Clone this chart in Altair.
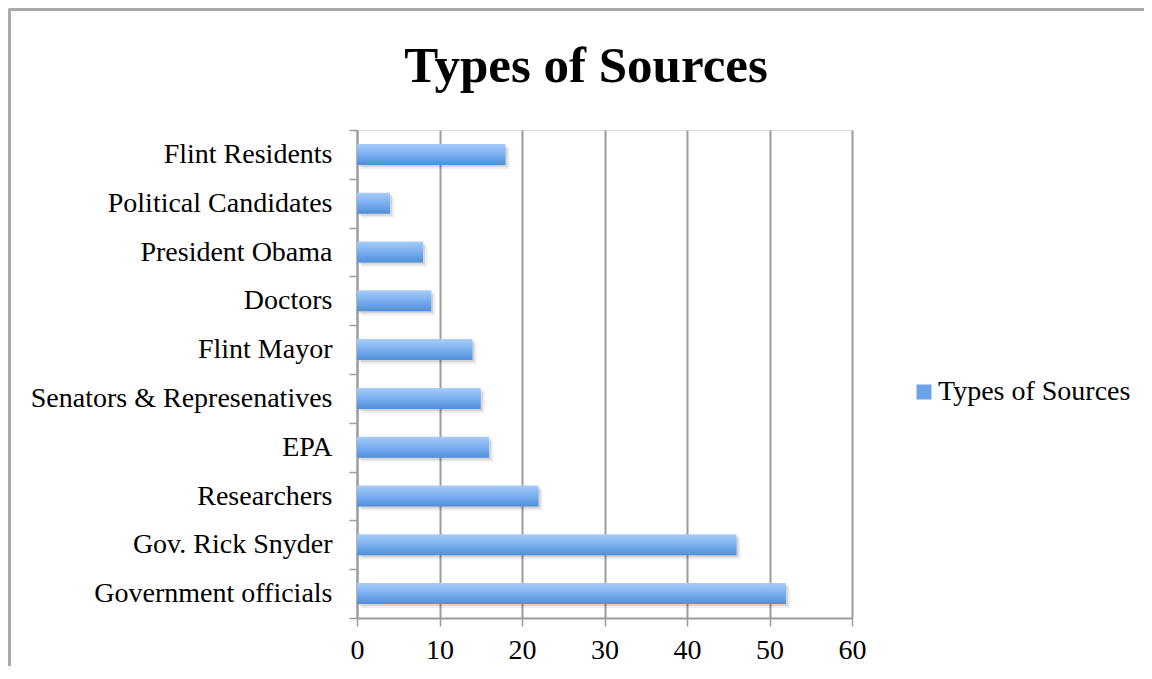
import altair as alt
import pandas as pd

# Data (Excel order: first category drawn at the bottom)
categories = ["Government officials", "Gov. Rick Snyder", "Researchers", "EPA",
              "Senators & Represenatives", "Flint Mayor", "Doctors",
              "President Obama", "Political Candidates", "Flint Residents"]
values = [52, 46, 22, 16, 15, 14, 9, 8, 4, 18]
series_name = "Types of Sources"
title_text = "Types of Sources"
x_ticks = [0, 10, 20, 30, 40, 50, 60]

df = pd.DataFrame({"category": categories, "value": values,
                   "series": [series_name] * len(categories)})

FONT = "Liberation Serif"
GRID = "#9c9c9c"
W, H = 495, 488

y_enc = alt.Y("category:N", sort=list(reversed(categories)), title=None,
              scale=alt.Scale(paddingInner=0, paddingOuter=0),
              axis=alt.Axis(tickBand="extent", tickSize=8, tickColor=GRID, tickWidth=1.5,
                            domainColor=GRID, domainWidth=2, labelFont=FONT,
                            labelFontSize=28, labelColor="black", labelPadding=17,
                            grid=False, labelLimit=400))
x_enc = alt.X("value:Q", title=None,
              scale=alt.Scale(domain=[0, 60], nice=False),
              axis=alt.Axis(values=x_ticks, grid=True, gridColor=GRID, gridWidth=2,
                            tickSize=8, tickColor=GRID, tickWidth=1.5,
                            domainColor=GRID, domainWidth=2, labelFont=FONT,
                            labelFontSize=28, labelColor="black", labelPadding=10,
                            labelFlush=False))

base = alt.Chart(df)

border = base.mark_rect(fill=None, stroke="#a6a6a6", strokeWidth=1.5).encode(
    x=alt.value(-347.5), x2=alt.value(900), y=alt.value(-120.5), y2=alt.value(700)
)

shadow1 = base.mark_bar(size=21, color="#000000", opacity=0.10, xOffset=2, yOffset=2).encode(
    x=x_enc, y=y_enc)
shadow2 = base.mark_bar(size=21, color="#000000", opacity=0.07, xOffset=4, yOffset=4).encode(
    x=x_enc, y=y_enc)

grad = alt.Gradient(gradient="linear",
                    stops=[alt.GradientStop(color="#a8ccf9", offset=0),
                           alt.GradientStop(color="#7aaeee", offset=0.5),
                           alt.GradientStop(color="#4f8fd9", offset=1)],
                    x1=0, x2=0, y1=0, y2=1)
bars = base.mark_bar(size=21, fill=grad).encode(x=x_enc, y=y_enc)

legend_layer = base.mark_square(opacity=0, filled=True).encode(
    x=x_enc, y=y_enc,
    color=alt.Color("series:N", scale=alt.Scale(range=["#6aa3e6"]),
                    legend=alt.Legend(title=None, orient="none", legendX=553, legendY=248,
                                      symbolType="square", symbolSize=225,
                                      symbolOpacity=1, symbolStrokeWidth=0,
                                      labelFont=FONT, labelFontSize=28,
                                      labelColor="black", labelOffset=0, padding=0,
                                      labelLimit=400))
)

title = alt.Chart(pd.DataFrame({"t": [title_text]})).mark_text(
    font=FONT, fontSize=51, fontWeight="bold", color="black",
    align="center", baseline="alphabetic"
).encode(text="t:N", x=alt.value(229), y=alt.value(-48))

chart = alt.layer(border, shadow2, shadow1, bars, legend_layer, title).properties(
    width=W, height=H,
    autosize=alt.AutoSizeParams(type="none"),
    padding={"left": 349, "top": 122, "right": 292, "bottom": 48},
).configure_view(stroke=None).configure(background="white")

chart.save("out.html", embed_options={"renderer": "svg", "actions": False})
